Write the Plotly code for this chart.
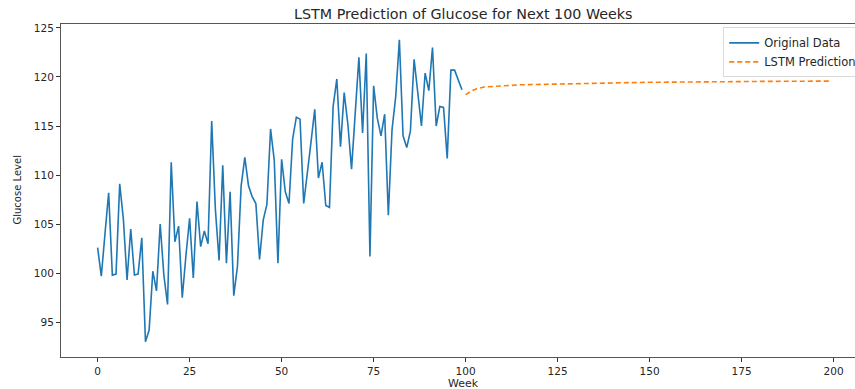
import plotly.graph_objects as go

weeks_original = list(range(0, 100))
glucose_original = [
    102.6, 99.7, 104.0, 108.2, 99.8, 99.9, 109.1, 105.5, 99.3, 104.5,
    99.8, 99.9, 103.6, 93.0, 94.2, 100.2, 98.2, 105.0, 99.8, 96.8,
    111.3, 103.2, 104.8, 97.5, 101.8, 105.6, 99.5, 107.3, 102.7, 104.3,
    103.0, 115.5, 106.5, 101.3, 111.0, 101.0, 108.3, 97.7, 100.7, 108.9,
    111.8, 108.9, 107.8, 107.1, 101.4, 105.4, 107.0, 114.7, 111.5, 101.0,
    111.6, 108.3, 107.1, 113.7, 115.9, 115.7, 107.1, 110.0, 113.4, 116.7,
    109.7, 111.3, 106.9, 106.7, 117.0, 119.8, 112.9, 118.4, 115.2, 110.6,
    116.2, 122.0, 114.3, 122.4, 101.7, 119.1, 115.8, 114.0, 116.2, 105.9,
    114.6, 118.0, 123.8, 114.0, 112.8, 114.5, 121.8, 118.6, 115.0, 120.4,
    118.6, 123.0, 115.0, 117.0, 116.9, 111.7, 120.7, 120.7, 119.7, 118.7,
]

weeks_pred = list(range(100, 200))
glucose_pred = [
    118.2, 118.45, 118.65, 118.8, 118.9, 118.97, 119.0, 119.03, 119.06, 119.08,
    119.1, 119.12, 119.14, 119.16, 119.18, 119.2, 119.21, 119.22, 119.23, 119.24,
    119.25, 119.26, 119.27, 119.28, 119.29, 119.3, 119.31, 119.32, 119.33, 119.34,
    119.35, 119.36, 119.36, 119.37, 119.38, 119.38, 119.39, 119.39, 119.4, 119.4,
    119.41, 119.41, 119.42, 119.42, 119.43, 119.43, 119.44, 119.44, 119.45, 119.45,
    119.46, 119.46, 119.46, 119.47, 119.47, 119.47, 119.48, 119.48, 119.48, 119.49,
    119.49, 119.49, 119.5, 119.5, 119.5, 119.51, 119.51, 119.51, 119.52, 119.52,
    119.52, 119.52, 119.53, 119.53, 119.53, 119.53, 119.54, 119.54, 119.54, 119.54,
    119.55, 119.55, 119.55, 119.55, 119.55, 119.56, 119.56, 119.56, 119.56, 119.56,
    119.57, 119.57, 119.57, 119.57, 119.57, 119.57, 119.58, 119.58, 119.58, 119.58,
]

x_ticks = [0, 25, 50, 75, 100, 125, 150, 175, 200]
y_ticks = [95, 100, 105, 110, 115, 120, 125]

FONT = "DejaVu Sans, Arial, sans-serif"
W, H = 855, 389
L, R, T, B = 61, 0, 24, 32

fig = go.Figure()
fig.add_trace(go.Scatter(
    x=weeks_original, y=glucose_original, mode="lines", name="Original Data",
    line=dict(color="#1f77b4", width=1.6),
))
fig.add_trace(go.Scatter(
    x=weeks_pred, y=glucose_pred, mode="lines", name="LSTM Prediction",
    line=dict(color="#ff7f0e", width=1.6, dash="5px,3px"),
))

fig.update_layout(
    width=W, height=H,
    margin=dict(l=L, r=R, t=T, b=B, autoexpand=False),
    plot_bgcolor="white", paper_bgcolor="white",
    font=dict(family=FONT, size=10, color="#262626"),
    showlegend=True,
    legend=dict(
        x=0.834, y=0.99, xanchor="left", yanchor="top",
        bgcolor="rgba(255,255,255,0.85)", bordercolor="#d9d9d9", borderwidth=1,
        font=dict(family=FONT, size=11.5, color="#262626"),
        tracegroupgap=0,
    ),
    annotations=[
        dict(text="LSTM Prediction of Glucose for Next 100 Weeks",
             xref="paper", yref="paper", x=(463 - L) / (W - L - R), y=1,
             yshift=10, xanchor="center", yanchor="middle", showarrow=False,
             font=dict(family=FONT, size=14.3, color="#262626")),
        dict(text="Week", xref="paper", yref="paper",
             x=(463 - L) / (W - L - R), y=0, yshift=-26,
             xanchor="center", yanchor="middle", showarrow=False,
             font=dict(family=FONT, size=11, color="#262626")),
        dict(text="Glucose Level", xref="paper", yref="paper",
             x=0, xshift=-44, y=0.5, textangle=-90,
             xanchor="center", yanchor="middle", showarrow=False,
             font=dict(family=FONT, size=10, color="#262626")),
    ],
)

fig.update_xaxes(
    range=[-9.95, -9.95 + (W - L - R) / 3.68],
    tickmode="array", tickvals=x_ticks, ticktext=[str(v) for v in x_ticks],
    ticks="outside", ticklen=4, tickwidth=1, tickcolor="#333",
    showline=True, linecolor="#555", linewidth=1, mirror=True,
    showgrid=False, zeroline=False,
    tickfont=dict(family=FONT, size=10.5, color="#262626"),
)
fig.update_yaxes(
    range=[91.45, 125.4],
    tickmode="array", tickvals=y_ticks, ticktext=[str(v) for v in y_ticks],
    ticks="outside", ticklen=4, tickwidth=1, tickcolor="#333",
    showline=True, linecolor="#555", linewidth=1, mirror=False,
    showgrid=False, zeroline=False,
    tickfont=dict(family=FONT, size=10.5, color="#262626"),
)

fig.write_html(
    "out.html",
    config={"displayModeBar": False},
    post_script="document.body.style.margin='0';document.body.style.overflow='hidden';",
)
